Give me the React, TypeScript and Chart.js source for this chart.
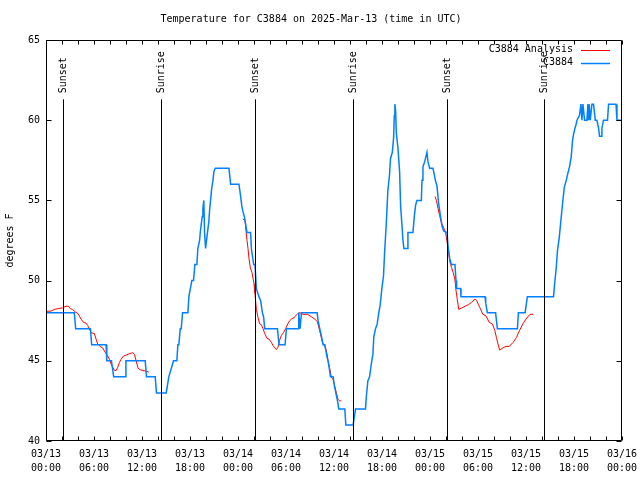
import React, { useEffect, useRef } from "react";
import { Chart, registerables } from "chart.js";

Chart.register(...registerables);

// ---- data (hours since 2025-03-13 00:00 UTC, temperature in degrees F) ----
const c3884Hours = [0, 3.54, 3.71, 5.55, 5.71, 7.51, 7.6, 8.18, 8.46, 9.89, 9.99, 12.4, 12.56, 13.65, 13.81, 15.03, 15.35, 15.94, 16.36, 16.48, 16.6, 16.78, 16.9, 17.07, 17.74, 17.86, 18.23, 18.44, 18.61, 18.86, 18.98, 19.2, 19.28, 19.53, 19.61, 19.73, 19.82, 19.95, 20.11, 20.36, 20.45, 20.57, 20.7, 20.86, 20.99, 21.16, 22.87, 23.08, 24.12, 24.29, 24.46, 24.62, 24.79, 24.96, 25.12, 25.58, 25.67, 25.96, 26.12, 26.3, 26.62, 26.83, 27.05, 27.21, 27.34, 28.93, 29.13, 29.88, 30.05, 31.5, 31.59, 31.76, 31.93, 33.89, 34.01, 34.22, 34.44, 34.64, 34.85, 35.14, 35.26, 35.39, 35.56, 35.89, 36.06, 36.23, 36.44, 36.6, 37.35, 37.48, 38.39, 38.69, 39.94, 40.03, 40.23, 40.45, 40.66, 40.86, 40.98, 41.19, 41.4, 41.6, 41.78, 41.98, 42.19, 42.32, 42.53, 42.73, 42.94, 43.06, 43.29, 43.45, 43.54, 43.61, 43.7, 43.79, 43.99, 44.2, 44.33, 44.49, 44.62, 44.74, 45.16, 45.24, 45.87, 46.04, 46.2, 46.37, 46.92, 47.0, 47.12, 47.33, 47.62, 47.75, 47.96, 48.37, 48.5, 48.67, 48.87, 49.08, 49.2, 49.5, 49.71, 50.13, 50.25, 50.47, 50.68, 51.12, 51.25, 51.33, 51.83, 51.87, 54.88, 54.96, 55.17, 56.2, 56.42, 58.93, 59.05, 59.89, 60.17, 63.44, 63.56, 63.78, 63.94, 64.16, 64.36, 64.57, 64.78, 65.03, 65.24, 65.44, 65.65, 65.82, 65.94, 66.07, 66.24, 66.37, 66.69, 66.87, 66.99, 67.12, 67.32, 67.62, 67.74, 67.82, 67.9, 68.03, 68.24, 68.44, 68.66, 68.86, 69.07, 69.19, 69.4, 69.49, 69.69, 70.19, 70.32, 71.25, 71.37, 72];
const c3884Temps = [48, 48, 47, 47, 46, 46, 45, 45, 44, 44, 45, 45, 44, 44, 43, 43, 44, 45, 45, 46, 46, 47, 47, 48, 48, 49, 50, 50, 51, 51, 52, 52.5, 53, 54, 54.5, 55, 53, 52, 52.7, 53.7, 54.4, 55, 55.7, 56.2, 56.8, 57, 57, 56, 56, 55.4, 54.7, 54.3, 54, 53.5, 53, 53, 52, 51, 51, 49.5, 49, 48.75, 48, 47.7, 47, 47, 46, 46, 47, 47, 48, 47, 48, 48, 47.5, 47, 46.5, 46, 46, 45.2, 45, 44.6, 44, 44, 43.4, 43, 42.5, 42, 42, 41, 41, 42, 42, 42.7, 43.75, 44, 44.8, 45.4, 46.5, 47, 47.3, 48, 48.5, 49.5, 50.3, 51.7, 53.5, 55.6, 56.6, 57.6, 58, 58.9, 60.3, 61, 60.6, 59.2, 58.3, 56.8, 54.6, 53.5, 52.5, 52, 52, 53, 53, 54, 54.7, 55, 55, 56.25, 57.1, 57.4, 58, 57.4, 57, 57, 56.7, 56.25, 55.9, 54.8, 54.4, 53.4, 53.1, 53, 52.2, 51.35, 51, 51, 50, 49.5, 49.5, 49, 49, 48.6, 48, 48, 47, 47, 48, 48, 49, 49, 49.7, 50.8, 51.9, 52.7, 53.75, 54.8, 55.8, 56.25, 56.7, 57.1, 57.7, 58.75, 59.1, 59.4, 59.7, 60, 60.3, 61, 60, 61, 60, 60, 61, 60, 61, 60, 61, 61, 60, 60, 59.5, 59, 59, 59.5, 60, 60, 61, 61, 60, 60];

const analysis1Hours = [0, 0.63, 1.04, 1.46, 2.08, 2.5, 2.8, 3.04, 3.33, 3.67, 3.96, 4.17, 4.38, 4.67, 5.0, 5.21, 5.42, 5.63, 6.05, 6.26, 6.46, 6.76, 7.09, 7.43, 7.71, 7.93, 8.14, 8.34, 8.55, 8.77, 8.97, 9.18, 9.39, 9.68, 10.02, 10.43, 10.84, 11.06, 11.27, 11.47, 11.68, 12.1, 12.52, 12.85];
const analysis1Temps = [48.08, 48.1, 48.2, 48.25, 48.3, 48.4, 48.4, 48.25, 48.2, 48.04, 47.96, 47.8, 47.6, 47.4, 47.35, 47.2, 47.0, 46.75, 46.7, 46.35, 46.05, 45.9, 45.8, 45.5, 45.3, 45.1, 44.8, 44.6, 44.4, 44.4, 44.6, 44.9, 45.1, 45.3, 45.35, 45.45, 45.5, 45.4, 45.0, 44.6, 44.45, 44.4, 44.35, 44.3];
const analysis2Hours = [24.6, 24.88, 25.0, 25.13, 25.25, 25.38, 25.54, 25.75, 26.0, 26.12, 26.3, 26.5, 26.71, 26.92, 27.13, 27.34, 27.63, 27.88, 28.17, 28.38, 28.59, 28.8, 29.0, 29.18, 29.4, 29.7, 29.95, 30.22, 30.46, 30.67, 30.96, 31.2, 31.5, 31.7, 32.1, 32.7, 33.15, 33.6, 33.9, 34.1, 34.3, 34.55, 34.7, 34.95, 35.14, 35.26, 35.47, 35.68, 35.89, 36.1, 36.3, 36.5, 36.7, 36.9];
const analysis2Temps = [53.85, 53.75, 53.1, 52.5, 52.0, 51.35, 50.8, 50.5, 49.8, 49.2, 48.2, 47.7, 47.3, 47.25, 47.0, 46.7, 46.4, 46.35, 46.15, 45.95, 45.8, 45.7, 45.85, 46.25, 46.56, 46.77, 47.0, 47.3, 47.5, 47.6, 47.67, 47.8, 47.96, 48.0, 47.9, 47.9, 47.75, 47.6, 47.45, 47.1, 46.7, 46.15, 46.05, 45.8, 45.4, 45.0, 44.5, 43.95, 43.85, 43.4, 43.0, 42.6, 42.5, 42.5];
const analysis3Hours = [48.62, 48.8, 49.0, 49.2, 49.4, 49.7, 49.95, 50.1, 50.3, 50.45, 50.7, 50.9, 51.1, 51.25, 51.4, 51.6, 51.97, 52.4, 52.8, 53.2, 53.63, 53.84, 54.05, 54.25, 54.6, 55.0, 55.4, 55.8, 56.1, 56.3, 56.5, 56.7, 57.1, 57.5, 57.9, 58.4, 58.8, 59.2, 59.6, 60.1, 60.5, 60.9];
const analysis3Temps = [55.25, 55.0, 54.5, 54.06, 53.65, 53.3, 53.0, 52.5, 51.9, 51.25, 50.8, 50.5, 50.1, 49.4, 48.85, 48.2, 48.3, 48.4, 48.5, 48.65, 48.85, 48.75, 48.5, 48.3, 47.9, 47.8, 47.4, 47.3, 46.9, 46.45, 46.05, 45.67, 45.8, 45.9, 45.9, 46.15, 46.45, 46.9, 47.3, 47.67, 47.9, 47.9];

const sunHours = [2.1, 14.35, 26.12, 38.39, 50.16, 62.31];
const sunLabels = ["Sunset", "Sunrise", "Sunset", "Sunrise", "Sunset", "Sunrise"];
const sunLineTop = 61.3;

const xTickHours = [0, 6, 12, 18, 24, 30, 36, 42, 48, 54, 60, 66, 72];
const xTickLabels = [
  ["03/13", "00:00"], ["03/13", "06:00"], ["03/13", "12:00"], ["03/13", "18:00"],
  ["03/14", "00:00"], ["03/14", "06:00"], ["03/14", "12:00"], ["03/14", "18:00"],
  ["03/15", "00:00"], ["03/15", "06:00"], ["03/15", "12:00"], ["03/15", "18:00"],
  ["03/16", "00:00"],
];
const yTicks = [40, 45, 50, 55, 60, 65];

const TITLE = "Temperature for C3884 on 2025-Mar-13 (time in UTC)";
const Y_TITLE = "degrees F";
const FONT_FAMILY = "'DejaVu Sans Mono', 'Liberation Mono', monospace";
const RED = "#ff0000";
const BLUE = "#0080ff";

const toPoints = (xs: number[], ys: number[]) => xs.map((x, i) => ({ x, y: ys[i] }));

const frameAndMarks = {
  id: "frameAndMarks",
  afterDatasetsDraw(chart: any) {
    const { ctx, chartArea: a, scales } = chart;
    const xs = scales.x;
    const ys = scales.y;
    const L = Math.round(a.left) + 0.5;
    const R = Math.round(a.right) - 0.5;
    const T = Math.round(a.top) + 0.5;
    const B = Math.round(a.bottom) - 0.5;
    ctx.save();
    ctx.strokeStyle = "#000";
    ctx.fillStyle = "#000";
    ctx.lineWidth = 1;
    ctx.font = `10px ${FONT_FAMILY}`;

    // sunrise / sunset markers
    sunHours.forEach((h, i) => {
      const px = Math.round(xs.getPixelForValue(h)) + 0.5;
      const top = ys.getPixelForValue(sunLineTop);
      ctx.beginPath();
      ctx.moveTo(px, B);
      ctx.lineTo(px, top);
      ctx.stroke();
      ctx.save();
      ctx.translate(px, top - 6);
      ctx.rotate(-Math.PI / 2);
      ctx.textAlign = "left";
      ctx.textBaseline = "middle";
      ctx.fillText(sunLabels[i], 0, 0);
      ctx.restore();
    });

    // frame
    ctx.beginPath();
    ctx.rect(L, T, R - L, B - T);
    ctx.stroke();

    // x tick marks every 2 hours (inward, mirrored)
    ctx.beginPath();
    for (let h = 0; h <= 72; h += 2) {
      const px = Math.round(xs.getPixelForValue(h)) + 0.5;
      ctx.moveTo(px, B);
      ctx.lineTo(px, B - 4);
      ctx.moveTo(px, T);
      ctx.lineTo(px, T + 4);
    }
    // y tick marks
    yTicks.forEach((v) => {
      const py = Math.round(ys.getPixelForValue(v)) + 0.5;
      ctx.moveTo(L, py);
      ctx.lineTo(L + 5, py);
      ctx.moveTo(R, py);
      ctx.lineTo(R - 5, py);
    });
    ctx.stroke();
    ctx.restore();
  },
  afterDraw(chart: any) {
    const { ctx, chartArea: a } = chart;
    const items = chart.data.datasets;
    ctx.save();
    ctx.font = `10px ${FONT_FAMILY}`;
    ctx.fillStyle = "#000";
    ctx.textAlign = "right";
    ctx.textBaseline = "middle";
    const textRight = a.right - 49;
    const lineStart = a.right - 41;
    const lineEnd = a.right - 12;
    items.forEach((ds: any, i: number) => {
      const y = a.top + 9.5 + i * 13;
      ctx.fillText(ds.label, textRight, y);
      ctx.strokeStyle = ds.borderColor;
      ctx.lineWidth = ds.borderWidth;
      ctx.beginPath();
      ctx.moveTo(lineStart, Math.round(y) + 0.5);
      ctx.lineTo(lineEnd, Math.round(y) + 0.5);
      ctx.stroke();
    });
    ctx.restore();
  },
};

export default function App() {
  const canvasRef = useRef<HTMLCanvasElement | null>(null);

  useEffect(() => {
    if (!canvasRef.current) return;
    const analysisPoints: any[] = [
      ...toPoints(analysis1Hours, analysis1Temps),
      { x: 18, y: null },
      ...toPoints(analysis2Hours, analysis2Temps),
      { x: 42, y: null },
      ...toPoints(analysis3Hours, analysis3Temps),
    ];
    const chart = new Chart(canvasRef.current, {
      type: "line",
      data: {
        datasets: [
          {
            label: "C3884 Analysis",
            data: analysisPoints,
            borderColor: RED,
            backgroundColor: RED,
            borderWidth: 1,
            pointRadius: 0,
            tension: 0,
            spanGaps: false,
            order: 1,
          },
          {
            label: "C3884",
            data: toPoints(c3884Hours, c3884Temps),
            borderColor: BLUE,
            backgroundColor: BLUE,
            borderWidth: 1.5,
            pointRadius: 0,
            tension: 0,
            order: 0,
          },
        ],
      },
      plugins: [frameAndMarks],
      options: {
        responsive: false,
        maintainAspectRatio: false,
        devicePixelRatio: 1,
        animation: false,
        events: [],
        color: "#000",
        layout: { padding: { left: 0, right: 18, top: 0, bottom: 0 } },
        plugins: {
          legend: { display: false },
          tooltip: { enabled: false },
          title: {
            display: true,
            text: TITLE,
            color: "#000",
            font: { family: FONT_FAMILY, size: 10, weight: "normal", lineHeight: 1.2 },
            padding: { top: 13, bottom: 15 },
          },
        },
        scales: {
          x: {
            type: "linear",
            min: 0,
            max: 72,
            afterFit: (s: any) => { s.height = 39; s.paddingLeft = 0; s.paddingRight = 0; },
            afterBuildTicks: (s: any) => { s.ticks = xTickHours.map((v) => ({ value: v })); },
            grid: { display: false, drawTicks: false },
            border: { display: false },
            ticks: {
              autoSkip: false,
              maxRotation: 0,
              padding: 6,
              color: "#000",
              font: { family: FONT_FAMILY, size: 10, lineHeight: 1.4 },
              callback: (v: any) => xTickLabels[xTickHours.indexOf(Number(v))] ?? "",
            },
          },
          y: {
            type: "linear",
            min: 40,
            max: 65,
            afterFit: (s: any) => { s.width = 46; s.paddingTop = 0; s.paddingBottom = 0; },
            afterBuildTicks: (s: any) => { s.ticks = yTicks.map((v) => ({ value: v })); },
            grid: { display: false, drawTicks: false },
            border: { display: false },
            ticks: {
              padding: 6,
              color: "#000",
              font: { family: FONT_FAMILY, size: 10 },
              callback: (v: any) => String(v),
            },
            title: {
              display: true,
              text: Y_TITLE,
              color: "#000",
              font: { family: FONT_FAMILY, size: 10, lineHeight: 1.2 },
              padding: { top: 4, bottom: 0 },
            },
          },
        },
      } as any,
    });
    return () => chart.destroy();
  }, []);

  return (
    <div style={{ position: "fixed", left: 0, top: 0, width: 640, height: 480, background: "#fff" }}>
      <canvas ref={canvasRef} width={640} height={480} style={{ display: "block", width: 640, height: 480 }} />
    </div>
  );
}
